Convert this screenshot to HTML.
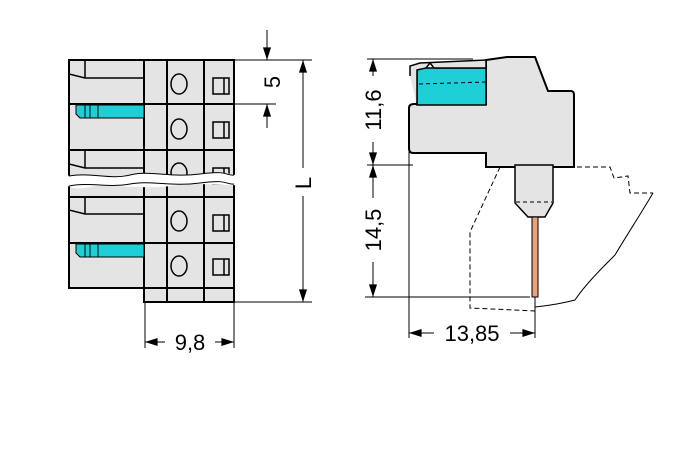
<!DOCTYPE html>
<html><head><meta charset="utf-8"><style>
html,body{margin:0;padding:0;background:#fff;}
svg{display:block}
text{font-family:"Liberation Sans",sans-serif;font-size:22px;fill:#000}
</style></head><body>
<svg width="697" height="449" viewBox="0 0 697 449" xmlns="http://www.w3.org/2000/svg">
<defs>
<marker id="a" viewBox="0 0 14 10" refX="14" refY="5" markerWidth="14" markerHeight="9" orient="auto-start-reverse" markerUnits="userSpaceOnUse"><path d="M0,0.5 L14,5 L0,9.5 Z" fill="#000"/></marker>
</defs>
<g stroke="#000" stroke-width="2" fill="#e4e4e4">
<rect x="69" y="60" width="75" height="228"/>
<rect x="144" y="60" width="90" height="242"/>
<line x1="167" y1="60" x2="167" y2="302"/>
<line x1="204" y1="60" x2="204" y2="302"/>
<line x1="69" y1="104" x2="234" y2="104"/>
<line x1="69" y1="150" x2="234" y2="150"/>
<line x1="69" y1="197" x2="234" y2="197"/>
<line x1="69" y1="243" x2="234" y2="243"/>
<line x1="144" y1="288" x2="234" y2="288"/>
</g>
<g stroke="#000" stroke-width="1.5" fill="none">
<path d="M69,74 L85,78 L144,78 M85,60 L85,78"/>
<path d="M69,164 L85,168 L144,168 M85,150 L85,168"/>
<path d="M69,210 L85,214 L144,214 M85,197 L85,214"/>
</g>
<g fill="#1ecfd8" stroke="#000" stroke-width="1">
<path d="M76,105 L144,105 L144,118 L80,118 L76,114 Z"/>
<path d="M76,244 L144,244 L144,257 L80,257 L76,253 Z"/>
<path d="M85,105 V118 M90,105 V118 M98,105 V118 M85,244 V257 M90,244 V257 M98,244 V257" fill="none"/>
</g>
<g stroke="#000" stroke-width="1.5" fill="#e4e4e4">
<ellipse cx="179" cy="84" rx="8" ry="10"/><ellipse cx="179" cy="129" rx="8" ry="10"/>
<ellipse cx="179" cy="173" rx="8" ry="10"/><ellipse cx="179" cy="221" rx="8" ry="10"/>
<ellipse cx="179" cy="266" rx="8" ry="10"/>
<rect x="213" y="78" width="16" height="16"/><rect x="213" y="122" width="16" height="16"/>
<rect x="213" y="168" width="16" height="16"/><rect x="213" y="215" width="16" height="16"/>
<rect x="213" y="259" width="16" height="16"/>
<path d="M224,78 V94 M224,122 V138 M224,168 V184 M224,215 V231 M224,259 V275" fill="none"/>
</g>
<path d="M66,176 C90,172 110,180 130,175 S170,178 200,174 S230,176 240,175 L240,185 C220,186 200,182 170,186 S110,183 90,187 S70,185 66,186 Z" fill="#fff" stroke="none"/>
<path d="M69,176 C90,172 110,180 130,175 S170,178 200,174 S225,176 234,175" fill="none" stroke="#000" stroke-width="1"/>
<path d="M69,186 C90,182 110,188 130,184 S170,187 200,183 S225,185 234,184" fill="none" stroke="#000" stroke-width="1"/>
<g stroke="#000" stroke-width="1" fill="none">
<line x1="234" y1="60" x2="312" y2="60"/>
<line x1="234" y1="104" x2="276" y2="104"/>
<line x1="234" y1="302" x2="312" y2="302"/>
<line x1="267" y1="30" x2="267" y2="60" marker-end="url(#a)"/>
<line x1="267" y1="128" x2="267" y2="104" marker-end="url(#a)"/>
<line x1="303" y1="60" x2="303" y2="168" marker-start="url(#a)"/>
<line x1="303" y1="196" x2="303" y2="302" marker-end="url(#a)"/>
<line x1="145" y1="302" x2="145" y2="348"/>
<line x1="234" y1="302" x2="234" y2="348"/>
<line x1="145" y1="342" x2="165" y2="342" marker-start="url(#a)"/>
<line x1="215" y1="342" x2="234" y2="342" marker-end="url(#a)"/>
</g>
<text transform="translate(280,82) rotate(-90)" text-anchor="middle">5</text>
<text transform="translate(311,183) rotate(-90)" text-anchor="middle">L</text>
<text x="190" y="350" text-anchor="middle">9,8</text>
<g stroke="#000" stroke-width="1" fill="none" stroke-dasharray="5,3">
<path d="M500,167 L470,232 L470,308 L535,311"/>
<path d="M553,167 L610,167 L614,178 L628,176 L630,193 L653,193"/>
</g>
<path d="M653,193 C640,215 630,230 615,255 C600,270 585,285 575,300 C560,304 545,306 535,307" fill="none" stroke="#000" stroke-width="1"/>
<path d="M409,108 Q409,104 414,104 L486,104 L486,60 L507,57 L535,57 L548,91 L571,91 Q574,91 574,95 L574,167 L486,167 L486,153 L413,153 Q409,153 409,148 Z" fill="#e4e4e4" stroke="#000" stroke-width="2"/>
<rect x="417" y="68" width="69" height="37" fill="#1ecfd8" stroke="#000" stroke-width="1.5"/>
<path d="M410,76 L410,66 L420,63 L486,60 L486,68 L434,68 L430,63 L426,68 L417,70 L417,105" fill="#e4e4e4" stroke="#000" stroke-width="1.5"/>
<path d="M419,84 L486,82" stroke="#000" stroke-width="1" stroke-dasharray="4,3" fill="none"/>
<path d="M515,165 L553,165 L553,203 L545,217 L528,217 L515,203 Z" fill="#e4e4e4" stroke="#000" stroke-width="1.5"/>
<path d="M516,202 L552,202" stroke="#000" stroke-width="1" stroke-dasharray="4,3"/>
<rect x="532" y="217" width="6" height="80" fill="#e9a27a" stroke="#000" stroke-width="1"/>
<g stroke="#000" stroke-width="1" fill="none">
<line x1="367" y1="59" x2="473" y2="59"/>
<line x1="367" y1="165" x2="413" y2="165"/>
<line x1="365" y1="297" x2="530" y2="297"/>
<line x1="373" y1="59" x2="373" y2="76" marker-start="url(#a)"/>
<line x1="373" y1="142" x2="373" y2="165" marker-end="url(#a)"/>
<line x1="373" y1="165" x2="373" y2="198" marker-start="url(#a)"/>
<line x1="373" y1="262" x2="373" y2="297" marker-end="url(#a)"/>
<line x1="409" y1="150" x2="409" y2="338"/>
<line x1="535" y1="297" x2="535" y2="338"/>
<line x1="409" y1="333" x2="434" y2="333" marker-start="url(#a)"/>
<line x1="510" y1="333" x2="535" y2="333" marker-end="url(#a)"/>
</g>
<text transform="translate(381,110) rotate(-90)" text-anchor="middle">11,6</text>
<text transform="translate(381,230) rotate(-90)" text-anchor="middle">14,5</text>
<text x="472" y="341" text-anchor="middle">13,85</text>
</svg>
</body></html>
